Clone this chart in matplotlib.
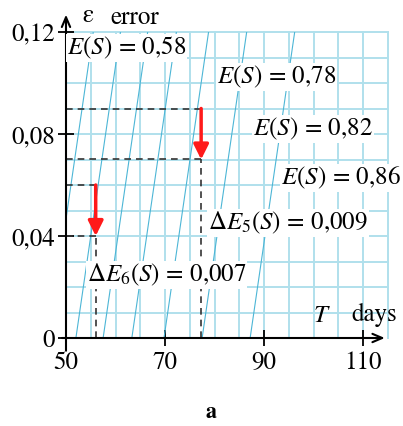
import numpy as np
import matplotlib
matplotlib.use("Agg")
import matplotlib.pyplot as plt

plt.rcParams['font.family'] = ['STIXGeneral', 'DejaVu Serif']
plt.rcParams['mathtext.fontset'] = 'stix'

# data
x_ticks = [50, 70, 90, 110]
x_labels = ["50", "70", "90", "110"]
y_ticks = [0, 0.04, 0.08, 0.12]
y_labels = ["0", "0,04", "0,08", "0,12"]

slant_start = [46.5, 52.0, 57.5, 63.3, 69.8, 77.5, 87.2]   # T at eps = 0
slant_end = [55.5, 61.0, 66.5, 72.3, 78.8, 86.5, 96.2]     # T at eps = 0.12

es_values = ["0,58", "0,78", "0,82", "0,86"]
es_x = [50.2, 80.5, 87.8, 93.4]
es_y = [0.1137, 0.1024, 0.0820, 0.0627]

step_T = [56.0, 77.3]
eps_before = [0.06, 0.09]
eps_after = [0.04, 0.07]
delta_names = [r"\Delta E_6(S)", r"\Delta E_5(S)"]
delta_values = ["0,007", "0,009"]
delta_x = [54.2, 78.7]
delta_y = [0.0247, 0.0451]

fig = plt.figure(figsize=(4.03, 4.26), dpi=100)
ax = fig.add_axes([66 / 403, 88 / 426, 321.75 / 403, 306 / 426])
ax.set_xlim(50, 115)
ax.set_ylim(0, 0.12)
for s in ax.spines.values():
    s.set_visible(False)

# grid
grid_c = '#b0e0ec'
for x in np.arange(55, 116, 5):
    ax.plot([x, x], [0, 0.12], color=grid_c, lw=1.4, zorder=1, clip_on=False)
for y in np.arange(0.01, 0.1201, 0.01):
    ax.plot([50, 115], [y, y], color=grid_c, lw=1.4, zorder=1, clip_on=False)

# slanted lines
for a, b in zip(slant_start, slant_end):
    ax.plot([a, b], [0, 0.12], color='#4db6d6', lw=0.8, zorder=2)

# dashed guides and red arrows
for T, e0, e1 in zip(step_T, eps_before, eps_after):
    ax.plot([50, T], [e0, e0], color='#333333', lw=1.2, ls=(0, (4, 3)), zorder=3)
    ax.plot([50, T], [e1, e1], color='#333333', lw=1.2, ls=(0, (4, 3)), zorder=3)
    ax.plot([T, T], [0, e1], color='#333333', lw=1.2, ls=(0, (4, 3)), zorder=3)
    ax.annotate('', xy=(T, e1), xytext=(T, e0),
                arrowprops=dict(arrowstyle='-|>,head_length=0.9,head_width=0.45',
                                color='#ff1a1a', lw=2.5, shrinkA=0, shrinkB=0),
                zorder=5)

# axes with arrows
ax.annotate('', xy=(114.4, 0), xytext=(49.2, 0), annotation_clip=False,
            arrowprops=dict(arrowstyle='->,head_length=0.7,head_width=0.3',
                            color='black', lw=1.5, shrinkA=0, shrinkB=0))
ax.annotate('', xy=(50, 0.1268), xytext=(50, -0.005), annotation_clip=False,
            arrowprops=dict(arrowstyle='->,head_length=0.7,head_width=0.3',
                            color='black', lw=1.5, shrinkA=0, shrinkB=0))

ax.set_xticks(x_ticks)
ax.set_xticklabels(x_labels)
ax.set_yticks(y_ticks)
ax.set_yticklabels(y_labels)
ax.tick_params(axis='both', direction='inout', length=12, width=1.3,
               labelsize=18, colors='black')
ax.tick_params(axis='x', pad=3)
ax.tick_params(axis='y', pad=2)

fs = 18
box = dict(facecolor='white', edgecolor='none', pad=0.5)
for v, x, y in zip(es_values, es_x, es_y):
    ax.text(x, y, r"$E(S)\,=\,0{,}%s$" % v.split(",")[1], fontsize=fs,
            ha='left', va='center', zorder=6, bbox=box)
for n, v, x, y in zip(delta_names, delta_values, delta_x, delta_y):
    ax.text(x, y, r"$%s\,=\,0{,}%s$" % (n, v.split(",")[1]), fontsize=fs,
            ha='left', va='center', zorder=6, bbox=box)

ax.text(99.8, 0.0086, r"$T$", fontsize=fs, ha='left', va='center')
ax.text(107.6, 0.0090, "days", fontsize=fs, ha='left', va='center')
ax.text(53.4, 0.1262, "ε", fontsize=fs, ha='left', va='center',
        clip_on=False)
ax.text(59.0, 0.1255, "error", fontsize=fs, ha='left', va='center',
        clip_on=False)

fig.text(211 / 403, 1 - 412 / 426, "a", fontsize=16, fontweight='bold',
         ha='center', va='center')

fig.savefig("out.png", dpi=100)
